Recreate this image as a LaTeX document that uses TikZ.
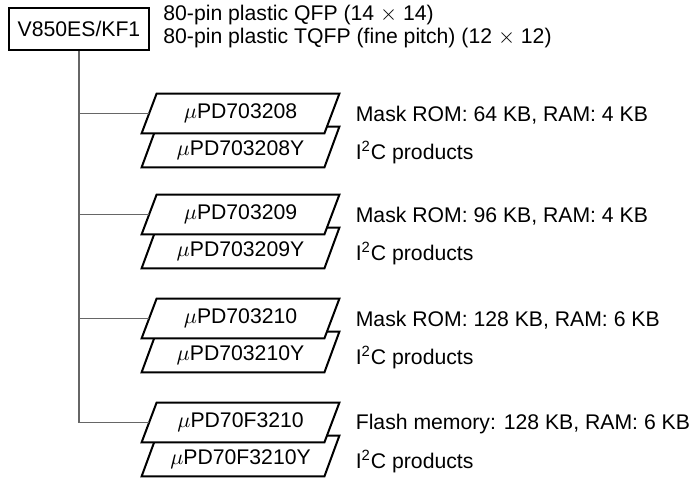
\documentclass[tikz,border=0pt]{standalone}
\usepackage{fontspec}
\setmainfont{Liberation Sans}
\usetikzlibrary{positioning}
\pgfdeclarelayer{bg}
\pgfsetlayers{bg,main}
\tikzset{
  chipbox/.style={rectangle, draw, line width=1pt, minimum width=70pt, minimum height=21pt, inner sep=0pt},
  partname/.style={rectangle, minimum width=91pt, minimum height=19.5pt, inner sep=0pt},
  partedge/.style={draw, fill=white, line width=1pt, line join=miter},
  tree/.style={draw=black!60, line width=0.55pt},
  note/.style={inner sep=0pt, align=left},
}

\begin{document}
\begin{tikzpicture}[x=0.5pt, y=-0.5pt, font=\fontsize{10.6}{11.5}\selectfont]
  \useasboundingbox (0,0) rectangle (691,479);

  % device family and packages
  \node[chipbox] (chip) at (79,29) {V850ES/KF1};
  \node[note, right=6.5pt of chip, yshift=1pt] (pkg) {80-pin plastic QFP (14 $\times$ 14)\\
    80-pin plastic TQFP (fine pitch) (12 $\times$ 12)};

  % products, each with its I2C version behind it
  \foreach \y/\pn/\desc [count=\i] in {113.5/703208/{Mask ROM: 64 KB, RAM: 4 KB},
      214.5/703209/{Mask ROM: 96 KB, RAM: 4 KB},
      318.5/703210/{Mask ROM: 128 KB, RAM: 6 KB},
      422.5/70F3210/{Flash memory: 128 KB, RAM: 6 KB}} {
    \node[partname] (u\i) at (240.5,\y) {$\mu$PD\pn};
    \node[partname, minimum height=16.5pt] (l\i) at (240.5,\y+37) {$\mu$PD\pn Y};
    \begin{pgfonlayer}{bg}
      \draw[partedge] ([xshift=-3.75pt, yshift=-17pt]u\i.south west) -- ([xshift=3.75pt, yshift=-16.5pt]u\i.north west)
        -- ([xshift=3.75pt, yshift=-16.5pt]u\i.north east) -- ([xshift=-3.75pt, yshift=-17pt]u\i.south east) -- cycle;
      \draw[partedge] ([xshift=-3.75pt]u\i.south west) -- ([xshift=3.75pt]u\i.north west)
        -- ([xshift=3.75pt]u\i.north east) -- ([xshift=-3.75pt]u\i.south east) -- cycle;
    \end{pgfonlayer}
    \node[note, right=11.75pt of u\i, yshift=-1pt] (d\i) {\desc};
    \node[note, right=11.75pt of l\i, yshift=-1pt] (c\i) {I\textsuperscript{2}C products};

    \draw[tree] (chip.south) |- (u\i.west);
  }

\end{tikzpicture}
\end{document}
